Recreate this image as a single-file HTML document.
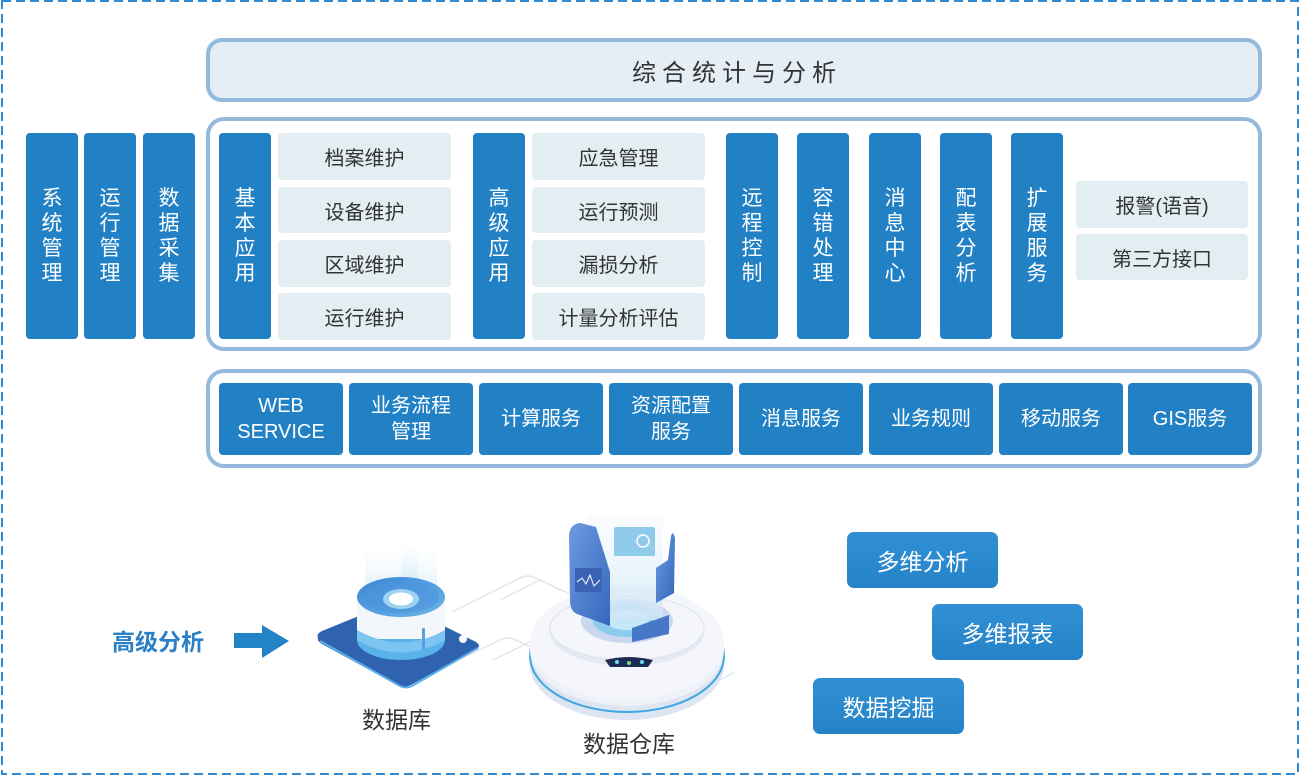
<!DOCTYPE html>
<html><head><meta charset="utf-8">
<style>
*{margin:0;padding:0;box-sizing:border-box}
body{width:1300px;height:776px;position:relative;background:#fff;overflow:hidden;font-family:"Liberation Sans","Noto Sans CJK SC",sans-serif}
.a{position:absolute}
.frame{position:absolute;border:4px solid #93b9dc;border-radius:18px}
.col{position:absolute;top:133px;width:52px;height:206px;background:#2281c5;border-radius:4px;color:#fff;font-size:21px;line-height:25px;display:flex;align-items:center;justify-content:center;text-align:center}
.lb{position:absolute;background:#e3eef3;border-radius:4px;color:#333;font-size:20px;display:flex;align-items:center;justify-content:center}
.sv{position:absolute;top:383px;width:124px;height:72px;background:#2281c5;border-radius:4px;color:#fff;font-size:20px;line-height:26px;display:flex;align-items:center;justify-content:center;text-align:center}
.btn{position:absolute;width:151px;height:56px;border-radius:7px;background:linear-gradient(#3190d4,#2582c6);color:#fff;font-size:23px;display:flex;align-items:center;justify-content:center}
.lbl{position:absolute;color:#333;font-size:23px;line-height:1}
</style></head><body>

<svg class="a" style="left:0;top:0" width="1300" height="776">
  <rect x="2" y="1" width="1296" height="773" fill="none" stroke="#2e8bd3" stroke-width="2" stroke-dasharray="9 5"/>
  <!-- faint decorative lines -->
  <g fill="none" stroke="#e3e8ef" stroke-width="1.5">
    <path d="M452 612 L520 578 Q528 574 536 578 L560 590"/>
    <path d="M442 668 L500 640 Q508 636 516 640 L530 647"/>
    <path d="M500 600 L540 580 L600 608"/>
    <path d="M493 660 L540 637"/>
    <path d="M700 690 L735 672"/>
  </g>
  <!-- arrow -->
  <polygon points="234,633 262,633 262,625 289,641 262,658 262,648 234,648" fill="#2383c7"/>

  <!-- database -->
  <defs>
    <linearGradient id="beam" x1="0" y1="1" x2="0" y2="0">
      <stop offset="0" stop-color="#bfe0f5" stop-opacity="0.9"/>
      <stop offset="1" stop-color="#e8f4fb" stop-opacity="0"/>
    </linearGradient>
    <linearGradient id="cyltop" x1="0" y1="0" x2="1" y2="1">
      <stop offset="0" stop-color="#3b86d6"/>
      <stop offset="1" stop-color="#6bb4ea"/>
    </linearGradient>
    <linearGradient id="panel" x1="0" y1="0" x2="1" y2="1">
      <stop offset="0" stop-color="#6d9be0"/>
      <stop offset="1" stop-color="#3468bd"/>
    </linearGradient>
    <linearGradient id="glass" x1="0" y1="0" x2="0" y2="1">
      <stop offset="0" stop-color="#eef6fc" stop-opacity="0.3"/>
      <stop offset="1" stop-color="#cfe6f6" stop-opacity="0.9"/>
    </linearGradient>
  </defs>
  <rect x="365" y="545" width="72" height="50" fill="url(#beam)" opacity="0.6"/>
  <rect x="402" y="545" width="16" height="55" fill="url(#beam)"/>
  <path d="M318 638 Q316 634 322 631 L388 604 Q394 601 400 604 L476 642 Q482 646 476 649 L411 685 Q405 688 399 686 L322 644 Q317 641 318 638 Z" fill="#2f63b0"/>
  <path d="M320 641 L400 686 Q406 689 412 686 L478 648" fill="none" stroke="#58aee8" stroke-width="2"/>
  <circle cx="463" cy="639" r="4" fill="#fff"/>
  <ellipse cx="401" cy="640" rx="44" ry="20" fill="#5ab2ea"/>
  <rect x="357" y="597" width="88" height="42" fill="#f3f6fb"/>
  <path d="M357 630 Q401 655 445 630 L445 640 Q401 665 357 640 Z" fill="#7cc5f0"/>
  <ellipse cx="401" cy="597" rx="44" ry="20" fill="url(#cyltop)"/>
  <ellipse cx="401" cy="597" rx="38" ry="16" fill="#4d95db" opacity="0.6"/>
  <ellipse cx="401" cy="599" rx="18" ry="10" fill="#9fd2f2"/>
  <ellipse cx="401" cy="599" rx="12" ry="6.5" fill="#fff"/>
  <rect x="422" y="628" width="3" height="22" rx="1.5" fill="#5b9ee0"/>

  <!-- warehouse -->
  <ellipse cx="627" cy="665" rx="97" ry="55" fill="#dde4f2"/>
  <ellipse cx="627" cy="656" rx="97" ry="56" fill="none" stroke="#3ea6e0" stroke-width="2"/>
  <ellipse cx="627" cy="650" rx="97" ry="56" fill="#eef1f8"/>
  <ellipse cx="627" cy="643" rx="97" ry="57" fill="#f5f6fb"/>
  <ellipse cx="627" cy="632" rx="77" ry="34" fill="#e4e9f4"/>
  <ellipse cx="627" cy="628" rx="77" ry="32" fill="#f4f6fb" stroke="#dde3ef"/>
  <ellipse cx="627" cy="621" rx="46" ry="22" fill="#c9d7f0"/>
  <ellipse cx="627" cy="621" rx="34" ry="16" fill="#8ccdee"/>
  <ellipse cx="627" cy="620" rx="22" ry="10" fill="#c4e8f7"/>
  <rect x="587" y="515" width="76" height="105" fill="url(#glass)"/>
  <rect x="614" y="527" width="41" height="29" rx="2" fill="#8fcbeb"/>
  <circle cx="643" cy="541" r="6" fill="none" stroke="#fff" stroke-width="1.5"/>
  <path d="M569 535 Q570 524 580 523 L596 527 L610 572 L610 626 L577 614 Q570 611 570 600 Z" fill="url(#panel)"/>
  <rect x="575" y="568" width="27" height="24" fill="#3a63b3"/>
  <path d="M577 582 L582 578 L586 584 L590 575 L594 586 L600 580" fill="none" stroke="#fff" stroke-width="1"/>
  <path d="M656 568 L668 560 L671 536 Q673 530 675 538 L674 593 L656 603 Z" fill="url(#panel)"/>
  <path d="M632 628 L669 615 L669 634 L632 642 Z" fill="#4677c9"/>
  <path d="M605 660 Q629 654 653 660 L648 667 L610 667 Z" fill="#1d2b55"/>
  <circle cx="617" cy="662" r="2" fill="#5fe0f0"/>
  <circle cx="629" cy="663" r="2" fill="#7ce07a"/>
  <circle cx="642" cy="662" r="2" fill="#5fe0f0"/>
</svg>

<!-- top title box -->
<div class="frame" style="left:206px;top:38px;width:1056px;height:64px;background:#e5eef4;border-radius:16px"></div>
<div class="a" style="left:206px;top:38px;width:1056px;height:64px;display:flex;align-items:center;justify-content:center;color:#333;font-size:24px;letter-spacing:6px;padding-left:6px">综合统计与分析</div>

<!-- middle frame -->
<div class="frame" style="left:206px;top:117px;width:1056px;height:234px;background:#fff"></div>

<div class="col" style="left:26px">系<br>统<br>管<br>理</div>
<div class="col" style="left:84px">运<br>行<br>管<br>理</div>
<div class="col" style="left:143px">数<br>据<br>采<br>集</div>

<div class="col" style="left:219px">基<br>本<br>应<br>用</div>
<div class="lb" style="left:278px;top:133px;width:173px;height:47px">档案维护</div>
<div class="lb" style="left:278px;top:187px;width:173px;height:46px">设备维护</div>
<div class="lb" style="left:278px;top:240px;width:173px;height:47px">区域维护</div>
<div class="lb" style="left:278px;top:293px;width:173px;height:47px">运行维护</div>

<div class="col" style="left:473px">高<br>级<br>应<br>用</div>
<div class="lb" style="left:532px;top:133px;width:173px;height:47px">应急管理</div>
<div class="lb" style="left:532px;top:187px;width:173px;height:46px">运行预测</div>
<div class="lb" style="left:532px;top:240px;width:173px;height:47px">漏损分析</div>
<div class="lb" style="left:532px;top:293px;width:173px;height:47px">计量分析评估</div>

<div class="col" style="left:726px">远<br>程<br>控<br>制</div>
<div class="col" style="left:797px">容<br>错<br>处<br>理</div>
<div class="col" style="left:869px">消<br>息<br>中<br>心</div>
<div class="col" style="left:940px">配<br>表<br>分<br>析</div>
<div class="col" style="left:1011px">扩<br>展<br>服<br>务</div>

<div class="lb" style="left:1076px;top:181px;width:172px;height:47px">报警(语音)</div>
<div class="lb" style="left:1076px;top:234px;width:172px;height:46px">第三方接口</div>

<!-- services frame -->
<div class="frame" style="left:206px;top:369px;width:1056px;height:99px;background:#fff"></div>
<div class="sv" style="left:219px">WEB<br>SERVICE</div>
<div class="sv" style="left:349px">业务流程<br>管理</div>
<div class="sv" style="left:479px">计算服务</div>
<div class="sv" style="left:609px">资源配置<br>服务</div>
<div class="sv" style="left:739px">消息服务</div>
<div class="sv" style="left:869px">业务规则</div>
<div class="sv" style="left:999px">移动服务</div>
<div class="sv" style="left:1128px">GIS服务</div>

<!-- bottom -->
<div class="a" style="left:112px;top:628px;color:#2a80c6;font-size:23px;font-weight:bold;line-height:28px">高级分析</div>
<div class="lbl" style="left:362px;top:709px">数据库</div>
<div class="lbl" style="left:583px;top:733px">数据仓库</div>

<div class="btn" style="left:847px;top:532px">多维分析</div>
<div class="btn" style="left:932px;top:604px">多维报表</div>
<div class="btn" style="left:813px;top:678px">数据挖掘</div>

</body></html>
